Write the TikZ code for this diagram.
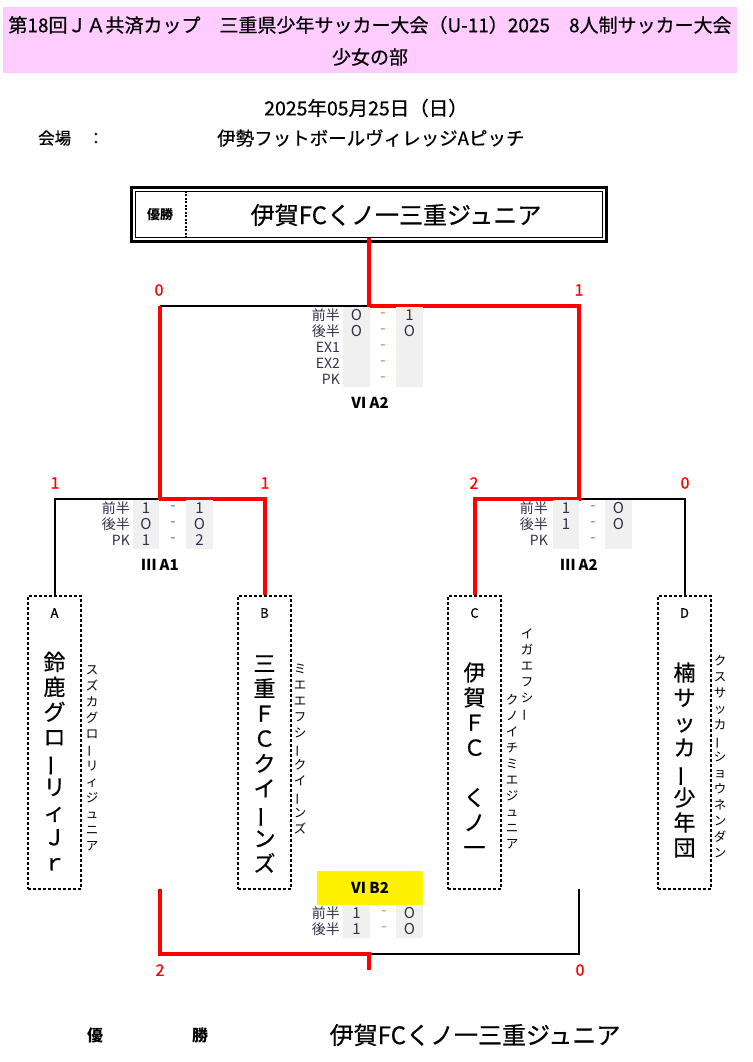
\documentclass[tikz,border=0pt]{standalone}
\usepackage{fontspec}
\setmainfont{Noto Sans CJK JP}
\usepackage{graphicx}
\definecolor{hdrpink}{HTML}{FFCCFF}
\definecolor{cellgray}{HTML}{F0F0F0}
\definecolor{labc}{HTML}{303048}
\definecolor{dasho}{HTML}{E07828}
\definecolor{dashb}{HTML}{3C78C8}
\definecolor{wred}{HTML}{FF0000}
\newcommand{\vbar}{\rotatebox[origin=c]{90}{ー}}
\newcommand{\semib}{\addfontfeature{FakeBold=0.6}}
\begin{document}
\begin{tikzpicture}[x=1pt,y=-1pt,
  blk/.style={line width=2pt,black},
  win/.style={line width=4pt,wred},
  scorelab/.style={text=wred,font=\fontsize{16}{16}\selectfont\semib,inner sep=0},
  tlab/.style={anchor=east,font=\fontsize{14}{14}\selectfont,text=labc,inner sep=0},
  tnum/.style={font=\fontsize{15}{15}\selectfont,text=labc,inner sep=0},
  tdash/.style={font=\fontsize{15}{15}\selectfont,inner sep=0},
  rnd/.style={font=\fontsize{15}{15}\selectfont\bfseries,inner sep=0},
  tbox/.style={draw,dashed,dash pattern=on 3pt off 2pt,line width=1.5pt,minimum width=53pt,minimum height=293pt,inner sep=0},
  vname/.style={font=\fontsize{22}{25}\selectfont\semib,align=center,inner sep=0},
  vkana/.style={font=\fontsize{12.5}{16}\selectfont,align=center,inner sep=0},
  letter/.style={font=\fontsize{13}{13}\selectfont\semib,inner sep=0}]
\useasboundingbox (0,0) rectangle (752,1062);

% header
\node[fill=hdrpink,minimum width=734pt,minimum height=66pt,inner sep=0] (hdr) at (370,40) {};
\node[font=\fontsize{19}{19}\selectfont\semib,inner sep=0] (title) at (370,25) {第18回ＪＡ共済カップ　三重県少年サッカー大会（U-11）2025　8人制サッカー大会};
\node[font=\fontsize{19}{19}\selectfont\semib,inner sep=0] (sub) at (370,57) {少女の部};
\node[font=\fontsize{19.5}{19.5}\selectfont\semib,inner sep=0] (date) at (366,108) {2025年05月25日（日）};
\node[font=\fontsize{16.5}{16.5}\selectfont\semib,anchor=west,inner sep=0] (kaijo) at (38,138) {会場　：};
\node[font=\fontsize{18.5}{18.5}\selectfont\semib,anchor=west,inner sep=0] (venue) at (217,138) {伊勢フットボールヴィレッジAピッチ};

% champion box
\node[draw,line width=1.3pt,minimum width=467pt,minimum height=46pt,inner sep=0] (champ) at (369,214.5) {};
\draw[line width=3pt] ([shift={(-3.5,3.5)}]champ.south west) rectangle ([shift={(3.5,-3.5)}]champ.north east);
\coordinate (dv) at (186,214);
\draw[line width=1.3pt,dash pattern=on 2pt off 1.5pt] (dv |- champ.north) -- (dv |- champ.south);
\node[font=\fontsize{13}{13}\selectfont\bfseries,inner sep=0] (yusho) at (160,215) {優勝};
\node[font=\fontsize{24}{24}\selectfont\semib,inner sep=0] (champname) at (396,215) {伊賀FCくノ一三重ジュニア};

% team boxes
\node[tbox] (boxA) at (54.5,742.5) {};
\node[tbox] (boxB) at (264.5,742.5) {};
\node[tbox] (boxC) at (474.5,742.5) {};
\node[tbox] (boxD) at (684.5,742.5) {};
\node[letter] (lA) at (54.5,613) {A};
\node[letter] (lB) at (264.5,613) {B};
\node[letter] (lC) at (474.5,613) {C};
\node[letter] (lD) at (684.5,613) {D};
\node[vname] (nA) at (54.5,761) {鈴\\鹿\\グ\\ロ\\\vbar\\リ\\ィ\\Ｊ\\ｒ};
\node[vname] (nB) at (264.5,764) {三\\重\\Ｆ\\Ｃ\\ク\\イ\\\vbar\\ン\\ズ};
\node[vname] (nC) at (474.5,759) {伊\\賀\\Ｆ\\Ｃ\\　\\く\\ノ\\一};
\node[vname] (nD) at (684.5,760) {楠\\サ\\ッ\\カ\\\vbar\\少\\年\\団};
\node[vkana] (kA) at (92,758) {ス\\ズ\\カ\\グ\\ロ\\\vbar\\リ\\ィ\\ジ\\ュ\\ニ\\ア};
\node[vkana] (kB) at (300,749) {ミ\\エ\\エ\\フ\\シ\\\vbar\\ク\\イ\\\vbar\\ン\\ズ};
\node[vkana] (kC1) at (527,675) {イ\\ガ\\エ\\フ\\シ\\\vbar};
\node[vkana] (kC2) at (512,772) {ク\\ノ\\イ\\チ\\ミ\\エ\\ジ\\ュ\\ニ\\ア};
\node[vkana] (kD) at (720,757) {ク\\ス\\サ\\ッ\\カ\\\vbar\\シ\\ョ\\ウ\\ネ\\ン\\ダ\\ン};

% bracket coordinates
\coordinate (a1) at (160,499);
\coordinate (a2) at (579,499);
\coordinate (f) at (369,306);
\coordinate (tL) at (160,889);
\coordinate (tR) at (579,889);
\coordinate (t) at (369,954);
\coordinate (tS) at (369,970);

% black lines
\draw[blk] (boxA.north) |- (a1);
\draw[blk] (boxD.north) |- (a2);
\draw[blk] (a1 |- f) -- (f);
\draw[blk] (t) -| (tR);
% red lines
\draw[win] (boxB.north) |- (a1) -- (a1 |- f);
\draw[win] (boxC.north) |- (a2) |- (f) -- (champ.south);
\draw[win] (tL) |- (t) -- (tS);

% score labels
\node[scorelab] (s1) at (159,290) {0};
\node[scorelab] (s2) at (579,290) {1};
\node[scorelab] (s3) at (55,483) {1};
\node[scorelab] (s4) at (265,483) {1};
\node[scorelab] (s5) at (474,483) {2};
\node[scorelab] (s6) at (685,483) {0};
\node[scorelab] (s7) at (160,970) {2};
\node[scorelab] (s8) at (580,970) {0};

% final table
\fill[cellgray] (343,307) rectangle (370,387);
\fill[cellgray] (396,307) rectangle (423,387);
\foreach \y/\l/\a/\b [count=\i] in {315/前半/O/1,331/後半/O/O,347/EX1//,363/EX2//,379/PK//}{
  \node[tlab] (fl\i) at (340,\y) {\l};
  \node[tnum] (fa\i) at (356.5,\y) {\a};
  \node[tdash,text=dasho] (fd\i) at (383,\y) {-};
  \node[tnum] (fb\i) at (409.5,\y) {\b};
}
\node[rnd] (rf) at (370,403) {Ⅵ A2};

% A1 table
\fill[cellgray] (133,500) rectangle (159,549);
\fill[cellgray] (186,500) rectangle (213,549);
\foreach \y/\l/\a/\b [count=\i] in {508/前半/1/1,524/後半/O/O,540/PK/1/2}{
  \node[tlab] (pl\i) at (130,\y) {\l};
  \node[tnum] (pa\i) at (146,\y) {\a};
  \node[tdash,text=dashb] (pd\i) at (173,\y) {-};
  \node[tnum] (pb\i) at (199.5,\y) {\b};
}
\node[rnd] (r1) at (160,565) {Ⅲ A1};

% A2 table
\fill[cellgray] (553,500) rectangle (579,549);
\fill[cellgray] (605,500) rectangle (632,549);
\foreach \y/\l/\a/\b [count=\i] in {508/前半/1/O,524/後半/1/O,540/PK//}{
  \node[tlab] (ql\i) at (548,\y) {\l};
  \node[tnum] (qa\i) at (566,\y) {\a};
  \node[tdash,text=dashb] (qd\i) at (593,\y) {-};
  \node[tnum] (qb\i) at (618.5,\y) {\b};
}
\node[rnd] (r2) at (579,565) {Ⅲ A2};

% B2 (third place)
\node[fill=yellow,minimum width=106pt,minimum height=34pt,inner sep=0] (ybox) at (370,888) {};
\node[rnd] (r3) at (370,888) {Ⅵ B2};
\fill[cellgray] (343,905) rectangle (370,938);
\fill[cellgray] (396,905) rectangle (423,938);
\foreach \y/\l/\a/\b [count=\i] in {913/前半/1/O,929/後半/1/O}{
  \node[tlab] (bl\i) at (340,\y) {\l};
  \node[tnum] (ba\i) at (356.5,\y) {\a};
  \node[tdash,text=dasho] (bd\i) at (384,\y) {-};
  \node[tnum] (bb\i) at (409.5,\y) {\b};
}

% bottom line
\node[font=\fontsize{16}{16}\selectfont\bfseries,inner sep=0] (by) at (95,1035) {優};
\node[font=\fontsize{16}{16}\selectfont\bfseries,inner sep=0] (bs) at (200,1035) {勝};
\node[font=\fontsize{24}{24}\selectfont\semib,inner sep=0] (bname) at (475,1035) {伊賀FCくノ一三重ジュニア};
\end{tikzpicture}
\end{document}
